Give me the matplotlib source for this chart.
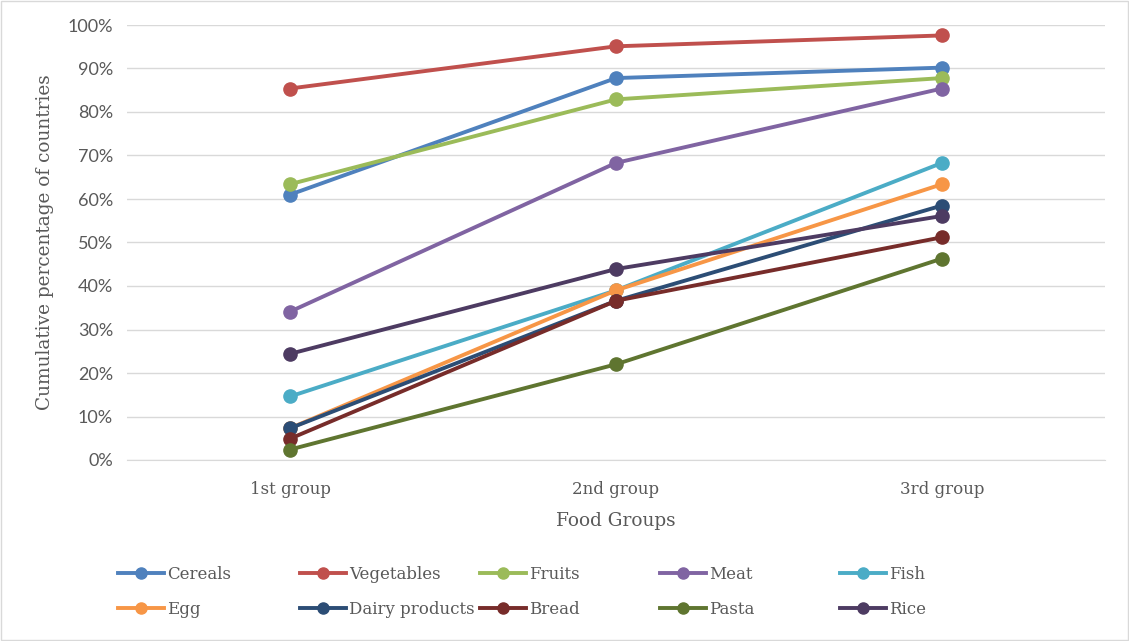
import matplotlib
matplotlib.use("Agg")
import matplotlib.pyplot as plt
from matplotlib.ticker import PercentFormatter

groups = ["1st group", "2nd group", "3rd group"]
series_names = ["Cereals", "Vegetables", "Fruits", "Meat", "Fish",
                "Egg", "Dairy products", "Bread", "Pasta", "Rice"]
cereals = [61.0, 87.8, 90.2]
vegetables = [85.4, 95.1, 97.6]
fruits = [63.4, 82.9, 87.8]
meat = [34.1, 68.3, 85.4]
fish = [14.6, 39.0, 68.3]
egg = [7.3, 39.0, 63.4]
dairy = [7.3, 36.6, 58.5]
bread = [4.9, 36.6, 51.2]
pasta = [2.4, 22.0, 46.3]
rice = [24.4, 43.9, 56.1]
values = [cereals, vegetables, fruits, meat, fish, egg, dairy, bread, pasta, rice]
colors = ["#4F81BD", "#C0504D", "#9BBB59", "#8064A2", "#4BACC6",
          "#F79646", "#2C4D75", "#772C2A", "#5F7530", "#4D3B62"]

W, H = 1129, 641
fig = plt.figure(figsize=(W / 100, H / 100), dpi=100)
ax = fig.add_axes([127 / W, 1 - 460 / H, (1105 - 127) / W, (460 - 25) / H])

x = range(len(groups))
handles = []
for name, vals, c in zip(series_names, values, colors):
    h, = ax.plot(x, vals, color=c, lw=2.8, marker="o", ms=9.5,
                 markeredgecolor=c, label=name, solid_capstyle="round")
    handles.append(h)

ax.set_xlim(-0.5, 2.5)
ax.set_ylim(0, 100)
ax.set_yticks(range(0, 101, 10))
ax.yaxis.set_major_formatter(PercentFormatter(decimals=0))
ax.set_xticks(list(x))
ax.set_xticklabels(groups, family="DejaVu Serif", fontsize=12, color="#595959")
for lab in ax.get_yticklabels():
    lab.set_family("Lato")
    lab.set_fontsize(13)
    lab.set_color("#595959")
ax.tick_params(axis="both", length=0)
ax.tick_params(axis="y", pad=10)
ax.tick_params(axis="x", pad=15)
ax.grid(axis="y", color="#D9D9D9", lw=1)
ax.set_axisbelow(True)
for s in ["top", "right", "left"]:
    ax.spines[s].set_visible(False)
ax.spines["bottom"].set_color("#D9D9D9")

ax.set_ylabel("Cumulative percentage of countries", family="DejaVu Serif",
              fontsize=13.3, color="#595959", labelpad=10)
ax.set_xlabel("Food Groups", family="DejaVu Serif", fontsize=13.3,
              color="#595959", labelpad=10)

# legend: five evenly spaced columns, two rows each
col_x = [118, 300, 480, 660, 840]
for k, cx in enumerate(col_x):
    idx = [k, k + 5]
    leg_handles = []
    for i in idx:
        lh, = ax.plot([], [], color=colors[i], lw=2.8, marker="o", ms=8,
                      markeredgecolor=colors[i])
        leg_handles.append(lh)
    leg = fig.legend(leg_handles, [series_names[i] for i in idx],
                     loc="center left", bbox_to_anchor=(cx / W, 1 - 592 / H),
                     frameon=False, borderpad=0, borderaxespad=0,
                     handlelength=2.75, handletextpad=0.2, labelspacing=1.05,
                     prop={"family": "DejaVu Serif", "size": 12})
    for t in leg.get_texts():
        t.set_color("#595959")

fig.patches.append(plt.Rectangle((0.001, 0.001), 0.998, 0.998, transform=fig.transFigure,
                                 fill=False, edgecolor="#D9D9D9", lw=1))
fig.savefig("out.png", dpi=100)
